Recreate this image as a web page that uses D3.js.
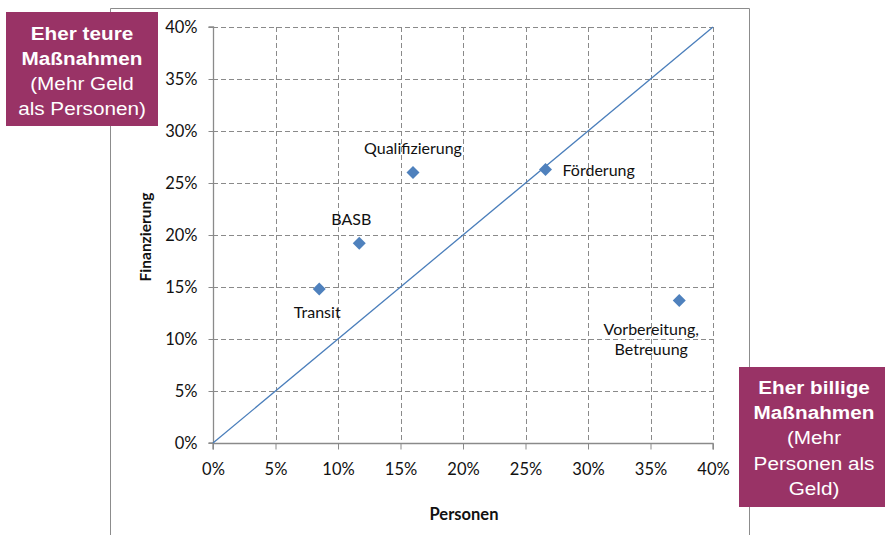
<!DOCTYPE html>
<html><head><meta charset="utf-8">
<script src="https://cdn.jsdelivr.net/npm/d3@7"></script>
<style>
html,body{margin:0;padding:0;background:#fff;}
svg{display:block;}
</style></head>
<body>
<script>
// ---- data ----
const categories = ["Transit", "BASB", "Qualifizierung", "Förderung", "Vorbereitung,\nBetreuung"];
const personen    = [8.5, 11.7, 16.0, 26.6, 37.3];
const finanzierung = [14.8, 19.2, 26.0, 26.3, 13.7];
const tickValues = [0, 5, 10, 15, 20, 25, 30, 35, 40];
const tickLabels = ["0%", "5%", "10%", "15%", "20%", "25%", "30%", "35%", "40%"];
const diagonal = [0, 40];
const xTitle = "Personen";
const yTitle = "Finanzierung";
const boxTeuer = ["Eher teure", "Maßnahmen", "(Mehr Geld", "als Personen)"];
const boxBillig = ["Eher billige", "Maßnahmen", "(Mehr", "Personen als", "Geld)"];

// ---- layout (not data) ----
const W = 885, H = 535;
const plot = {left: 213, right: 713, top: 27, bottom: 443};
const labelPos = {
  "Transit": {dx: -2, dy: 29, anchor: "middle"},
  "BASB": {dx: -8, dy: -18, anchor: "middle"},
  "Qualifizierung": {dx: 0, dy: -19, anchor: "middle"},
  "Förderung": {dx: 17, dy: 7, anchor: "start"},
  "Vorbereitung,\nBetreuung": {dx: -28, dy: 34, anchor: "middle"}
};
const gridColor = "#8a8a8a";
const pointColor = "#4f81bd";
const lineColor = "#4a7ebb";
const boxColor = "#993366";
const labelFont = "Lato, 'Open Sans', sans-serif";

const svg = d3.select("body").append("svg").attr("width", W).attr("height", H);

// frame
svg.append("path")
  .attr("d", `M110.5,${H} V8.5 H749.5 V${H}`)
  .attr("fill", "none").attr("stroke", "#8c8c8c").attr("stroke-width", 1);

const x = d3.scaleLinear().domain([0, 40]).range([plot.left, plot.right]);
const y = d3.scaleLinear().domain([0, 40]).range([plot.bottom, plot.top]);

// gridlines (dashed)
const g = svg.append("g");
g.selectAll(".vg").data(tickValues.slice(1)).join("line")
  .attr("x1", d => Math.round(x(d)) + 0.5).attr("x2", d => Math.round(x(d)) + 0.5)
  .attr("y1", plot.top).attr("y2", plot.bottom)
  .attr("stroke", gridColor).attr("stroke-dasharray", "5,3");
g.selectAll(".hg").data(tickValues.slice(1)).join("line")
  .attr("y1", d => Math.round(y(d)) + 0.5).attr("y2", d => Math.round(y(d)) + 0.5)
  .attr("x1", plot.left).attr("x2", plot.right)
  .attr("stroke", gridColor).attr("stroke-dasharray", "5,3");

// axes
const xAxis = d3.axisBottom(x).tickValues(tickValues).tickFormat((d, i) => tickLabels[i]).tickSize(6).tickPadding(14);
const yAxis = d3.axisLeft(y).tickValues(tickValues).tickFormat((d, i) => tickLabels[i]).tickSize(5).tickPadding(11);
const gx = svg.append("g").attr("transform", `translate(0,${plot.bottom + 0.5})`).call(xAxis);
const gy = svg.append("g").attr("transform", `translate(${plot.left + 0.5},0)`).call(yAxis);
[gx, gy].forEach(a => {
  a.select(".domain").attr("stroke", gridColor).attr("stroke-width", 1.3);
  a.selectAll(".tick line").attr("stroke", gridColor);
  a.selectAll(".tick text").attr("fill", "#111").style("font-family", labelFont).style("font-size", "16.5px");
});
gx.select(".domain").attr("d", `M${plot.left},6V0H${plot.right}V6`);
gy.select(".domain").attr("d", `M-5,${plot.top}H0V${plot.bottom}H-5`);

// axis titles
svg.append("text").attr("x", 464).attr("y", 520).attr("text-anchor", "middle")
  .style("font-family", labelFont).style("font-weight", "bold").style("font-size", "16.5px").attr("fill", "#111").text(xTitle);
svg.append("text").attr("transform", "translate(151,237) rotate(-90)").attr("text-anchor", "middle")
  .style("font-family", labelFont).style("font-weight", "bold").style("font-size", "15.5px").attr("fill", "#111").text(yTitle);

// diagonal
svg.append("line")
  .attr("x1", x(diagonal[0])).attr("y1", y(diagonal[0]))
  .attr("x2", x(diagonal[1])).attr("y2", y(diagonal[1]))
  .attr("stroke", lineColor).attr("stroke-width", 1.3);

// points
const pts = categories.map((c, i) => ({c, px: personen[i], fy: finanzierung[i]}));
svg.selectAll(".pt").data(pts).join("path")
  .attr("d", "M0,-6.5L6.5,0L0,6.5L-6.5,0Z")
  .attr("transform", d => `translate(${x(d.px)},${y(d.fy)})`)
  .attr("fill", pointColor);

// labels
pts.forEach(d => {
  const p = labelPos[d.c];
  const t = svg.append("text")
    .attr("x", x(d.px) + p.dx).attr("y", y(d.fy) + p.dy)
    .attr("text-anchor", p.anchor)
    .style("font-family", labelFont).style("font-size", "16px").attr("fill", "#111");
  d.c.split("\n").forEach((line, k) => {
    t.append("tspan").attr("x", x(d.px) + p.dx).attr("dy", k === 0 ? 0 : 20.7).text(line);
  });
});

// annotation boxes
function box(x0, y0, w, h, lines, cx, cy0, step) {
  svg.append("rect").attr("x", x0).attr("y", y0).attr("width", w).attr("height", h).attr("fill", boxColor);
  const gg = svg.append("g").attr("transform", `translate(${cx},0) scale(1.12,1)`);
  lines.forEach((l, i) => {
    gg.append("text").attr("x", 0).attr("y", cy0 + i * step).attr("text-anchor", "middle")
      .attr("dominant-baseline", "central")
      .style("font-family", "'Liberation Sans', Arial, sans-serif")
      .style("font-size", "18.5px")
      .style("font-weight", i < 2 ? "bold" : "normal")
      .attr("fill", "#fff").text(l);
  });
}
box(6, 12, 152, 114, boxTeuer, 82, 33, 25.3);
box(739, 367, 149, 140, boxBillig, 814, 387, 25.4);
</script>
</body></html>
